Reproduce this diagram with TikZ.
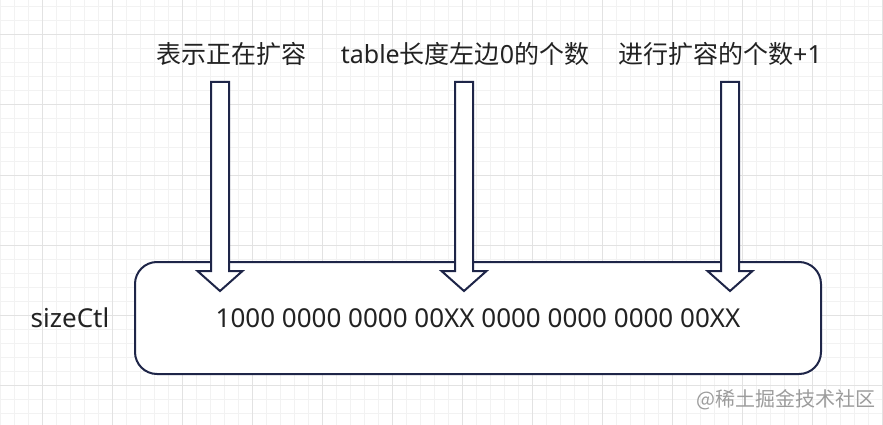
\documentclass[tikz,border=0pt]{standalone}
\usepackage{fontspec}
\setmainfont{Noto Sans}
\newfontfamily\cjk{Noto Sans CJK SC}
\definecolor{navy}{HTML}{1E2548}
\definecolor{ink}{HTML}{222222}
\definecolor{gridminor}{HTML}{F2F2F2}
\definecolor{gridmajor}{HTML}{E2E2E2}
\definecolor{wmgray}{HTML}{9C9C9C}
\tikzset{
  minorline/.style={gridminor, line width=1pt},
  majorline/.style={gridmajor, line width=1pt},
  regbox/.style={draw=navy, line width=2pt, rounded corners=22pt, fill=white,
    minimum width=686pt, minimum height=112pt, inner sep=0pt,
    text=ink, font=\fontsize{26}{30}\selectfont},
  blockarrow/.style={draw=navy, fill=white, line width=2pt, line join=miter},
  lab/.style={text=ink, font=\fontsize{25}{30}\selectfont, inner sep=0pt},
  wm/.style={text=wmgray, font=\fontsize{20}{24}\selectfont, inner sep=0pt}
}
\begin{document}
\begin{tikzpicture}[x=1pt,y=-1pt]
\useasboundingbox (0,0) rectangle (883,425);
\fill[white] (0,0) rectangle (883,425);
% grid
\foreach \x in {0,14,...,882} \draw[minorline] (\x,0) -- (\x,425);
\foreach \y in {7,21,...,424} \draw[minorline] (0,\y) -- (883,\y);
\foreach \x in {42,112,...,882} \draw[majorline] (\x,0) -- (\x,425);
\foreach \y in {35,105,...,424} \draw[majorline] (0,\y) -- (883,\y);
% register box
\node[regbox] (reg) at (478,318) {1000 0000 0000 00XX 0000 0000 0000 00XX};
\node[lab, font=\fontsize{26}{30}\selectfont, anchor=base] (name) at (70,327) {sizeCtl};
% block arrows
\foreach \c/\n in {220/a1,464/a2,730/a3}{
  \draw[blockarrow] (\c-9,82) -- (\c+9,82) -- (\c+9,271) -- (\c+22.5,271)
    -- (\c,291) -- (\c-22.5,271) -- (\c-9,271) -- cycle;
  \coordinate (\n) at (\c,291);
}
% labels
\node[lab, anchor=base] (l1) at (231,64) {\cjk 表示正在扩容};
\node[lab, anchor=base] (l2) at (465,64) {table{\cjk 长度左边}0{\cjk 的个数}};
\node[lab, anchor=base] (l3) at (720,64) {{\cjk 进行扩容的个数}+1};
% watermark
\node[wm] (wmark) at (786,400) {\cjk @稀土掘金技术社区};
\end{tikzpicture}
\end{document}
